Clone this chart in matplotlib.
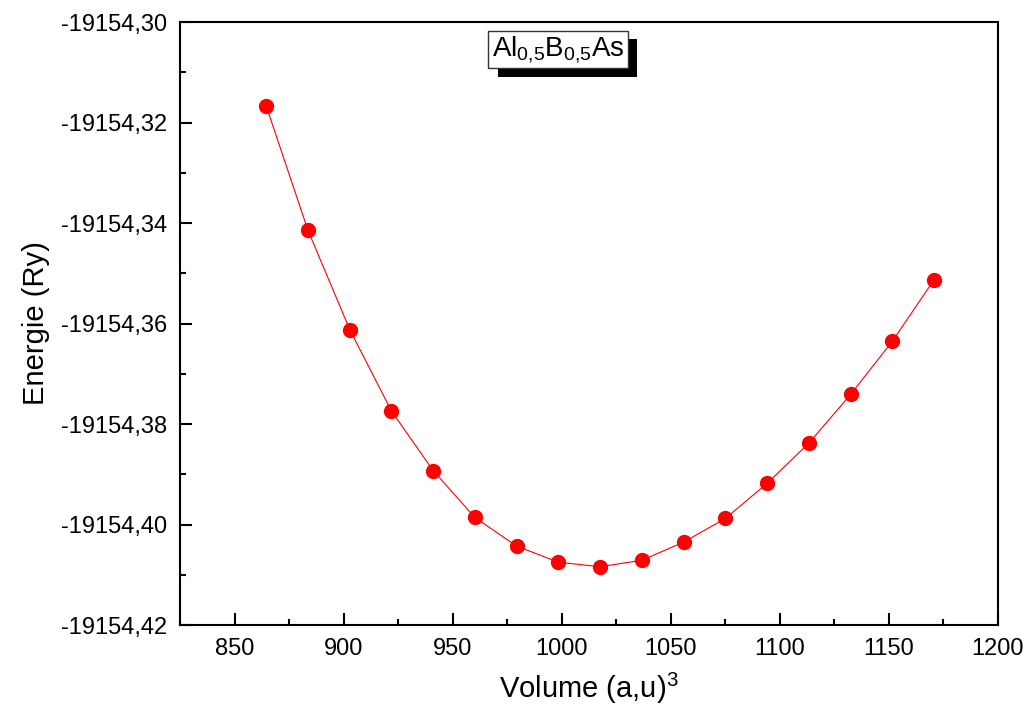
import matplotlib
matplotlib.use("Agg")
import matplotlib.pyplot as plt
import matplotlib.patheffects as pe
from matplotlib.ticker import FuncFormatter, MultipleLocator

plt.rcParams['font.family'] = ['Liberation Sans', 'DejaVu Sans']
plt.rcParams['mathtext.fontset'] = 'custom'
plt.rcParams['mathtext.rm'] = 'Liberation Sans'

# volume (a.u.^3) and total energy (Ry)
volume = [864.5, 883.6, 902.8, 921.9, 941.1, 960.2, 979.3, 998.5, 1017.6,
          1036.8, 1055.9, 1075.0, 1094.2, 1113.3, 1132.5, 1151.6, 1170.7]
energy = [-19154.3167, -19154.3414, -19154.3612, -19154.3774, -19154.3893,
          -19154.3986, -19154.4043, -19154.4075, -19154.4084, -19154.4071,
          -19154.4035, -19154.3988, -19154.3918, -19154.3838, -19154.3741,
          -19154.3635, -19154.3513]

fig = plt.figure(figsize=(10.3, 7.24), dpi=100)
ax = fig.add_axes([0.1748, 0.1367, 0.7941, 0.8329])

ax.plot(volume, energy, color='red', lw=0.8, marker='o', markersize=10,
        markerfacecolor='red', markeredgecolor='red')

ax.set_xlim(825, 1200)
ax.set_ylim(-19154.42, -19154.30)
ax.xaxis.set_major_locator(MultipleLocator(50))
ax.xaxis.set_minor_locator(MultipleLocator(25))
ax.yaxis.set_major_locator(MultipleLocator(0.02))
ax.yaxis.set_minor_locator(MultipleLocator(0.01))
ax.yaxis.set_major_formatter(FuncFormatter(lambda v, p: f"{v:.2f}".replace('.', ',')))

ax.tick_params(which='both', direction='in', width=1.5, labelsize=17,
               top=False, right=False, pad=9)
ax.tick_params(which='major', length=8.5)
ax.tick_params(which='minor', length=4.5)
for s in ax.spines.values():
    s.set_linewidth(1.5)

ax.set_xlabel(r'Volume (a,u)$^3$', fontsize=21, labelpad=8)
ax.set_ylabel('Energie (Ry)', fontsize=21, labelpad=8)

t = ax.text(0.462, 0.954, r'$\mathregular{Al_{0{,}5}B_{0{,}5}As}$', transform=ax.transAxes,
            ha='center', va='center', fontsize=20,
            bbox=dict(boxstyle='square,pad=0.12', facecolor='white',
                      edgecolor='#333333', linewidth=1))
t.get_bbox_patch().set_path_effects([
    pe.SimplePatchShadow(offset=(7, -6), shadow_rgbFace='black', alpha=1),
    pe.Normal()])

fig.savefig('out.png', dpi=100)
